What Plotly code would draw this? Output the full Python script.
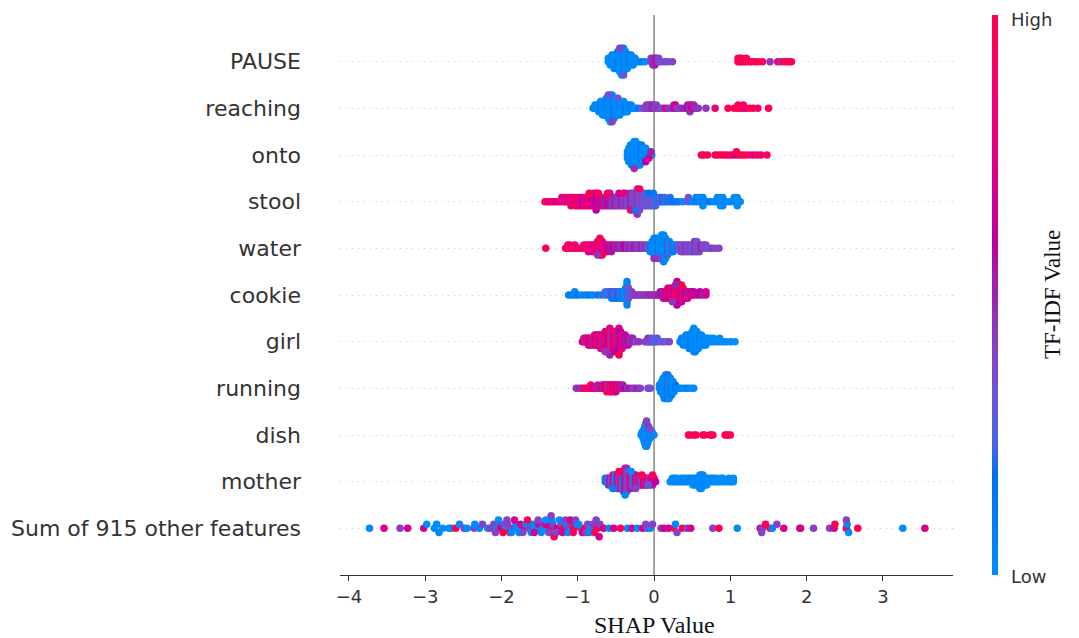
import numpy as np
import plotly.graph_objects as go

# ---------------- data ----------------
# each row: SHAP values, how many samples sit at that value, and their TF-IDF colour value (0=Low, 1=High)
features = ["PAUSE", "reaching", "onto", "stool", "water", "cookie", "girl",
            "running", "dish", "mother", "Sum of 915 other features"]
x_ticks = [-4, -3, -2, -1, 0, 1, 2, 3]
color_labels = ["Low", "High"]

PAUSE_shap = [-0.600, -0.575, -0.550, -0.525, -0.500, -0.475, -0.450, -0.425, -0.400, -0.375,
              -0.350, -0.325, -0.300, -0.275, -0.250, -0.225, -0.200, -0.160, -0.120, -0.450,
              -0.400, -0.040, -0.015, 0.010, 0.035, 0.060, 0.090, 0.140, 0.180, 0.240,
              1.100, 1.125, 1.150, 1.180, 1.210, 1.250, 1.280, 1.320, 1.360, 1.420,
              1.520, 1.620, 1.660, 1.700, 1.740, 1.770, 1.800]
PAUSE_count = [2, 3, 4, 5, 5, 6, 7, 9, 8, 6,
               5, 4, 4, 3, 2, 1, 1, 1, 1, 1,
               1, 2, 3, 3, 2, 2, 1, 1, 1, 1,
               2, 2, 2, 1, 2, 1, 1, 1, 1, 1,
               1, 1, 1, 1, 1, 1, 1]
PAUSE_tfidf = [0.00, 0.00, 0.05, 0.00, 0.00, 0.10, 0.00, 0.00, 0.05, 0.00,
               0.00, 0.10, 0.00, 0.00, 0.05, 0.00, 0.00, 0.10, 0.00, 0.40,
               0.30, 0.40, 0.45, 0.50, 0.55, 0.40, 0.35, 0.40, 0.35, 0.40,
               1.00, 0.95, 1.00, 0.90, 1.00, 0.95, 1.00, 0.90, 1.00, 0.95,
               0.45, 0.95, 0.45, 1.00, 0.90, 1.00, 0.95]

reaching_shap = [-0.800, -0.775, -0.750, -0.725, -0.700, -0.675, -0.650, -0.625, -0.600, -0.575,
                 -0.550, -0.525, -0.500, -0.475, -0.450, -0.425, -0.400, -0.375, -0.350, -0.325,
                 -0.300, -0.270, -0.240, -0.210, -0.600, -0.550, -0.475, -0.160, -0.130, -0.100,
                 -0.075, -0.050, -0.025, 0.000, 0.030, 0.060, 0.090, 0.120, 0.155, 0.190,
                 0.230, 0.260, 0.280, 0.300, 0.330, 0.360, 0.400, 0.440, 0.470, 0.490,
                 0.520, 0.550, 0.580, 0.680, 0.800, 0.970, 1.050, 1.100, 1.130, 1.170,
                 1.200, 1.250, 1.300, 1.360, 1.500]
reaching_count = [1, 2, 2, 3, 4, 5, 5, 6, 7, 9,
                  8, 7, 6, 5, 5, 4, 4, 3, 3, 2,
                  2, 1, 1, 1, 1, 1, 1, 1, 1, 2,
                  2, 2, 2, 2, 2, 1, 1, 1, 1, 1,
                  1, 2, 2, 1, 1, 1, 1, 2, 3, 2,
                  2, 1, 1, 1, 1, 1, 1, 2, 1, 2,
                  1, 1, 1, 1, 1]
reaching_tfidf = [0.00, 0.05, 0.00, 0.00, 0.10, 0.00, 0.00, 0.05, 0.00, 0.00,
                  0.00, 0.10, 0.00, 0.00, 0.05, 0.00, 0.00, 0.10, 0.00, 0.00,
                  0.05, 0.00, 0.00, 0.10, 0.35, 0.40, 0.30, 0.35, 0.40, 0.40,
                  0.45, 0.40, 0.50, 0.45, 0.40, 0.45, 0.35, 0.40, 0.75, 0.45,
                  0.40, 0.55, 0.70, 0.45, 0.40, 0.45, 0.50, 0.55, 0.45, 0.70,
                  0.50, 0.45, 0.45, 0.45, 0.80, 0.95, 1.00, 0.95, 0.90, 1.00,
                  0.80, 0.95, 1.00, 0.90, 1.00]

onto_shap = [-0.350, -0.330, -0.310, -0.295, -0.275, -0.260, -0.240, -0.220, -0.205, -0.185,
             -0.165, -0.150, -0.130, -0.110, -0.090, -0.070, -0.050, -0.030, -0.260, -0.110,
             -0.070, -0.040, 0.620, 0.650, 0.700, 0.800, 0.840, 0.880, 0.920, 0.960,
             1.000, 1.040, 1.080, 1.080, 1.120, 1.160, 1.200, 1.250, 1.300, 1.350,
             1.400, 1.480]
onto_count = [3, 5, 6, 7, 7, 8, 8, 7, 7, 7,
              6, 5, 4, 4, 3, 2, 1, 1, 1, 1,
              1, 1, 1, 1, 1, 1, 1, 1, 1, 1,
              1, 1, 1, 1, 1, 1, 1, 1, 1, 1,
              1, 1]
onto_tfidf = [0.00, 0.05, 0.00, 0.00, 0.10, 0.00, 0.00, 0.05, 0.00, 0.00,
              0.10, 0.00, 0.00, 0.05, 0.00, 0.00, 0.10, 0.00, 0.45, 0.60,
              0.70, 0.50, 1.00, 0.95, 1.00, 0.90, 1.00, 0.95, 1.00, 0.90,
              0.95, 1.00, 0.60, 1.00, 1.00, 0.90, 1.00, 0.90, 0.70, 1.00,
              0.80, 0.95]

stool_shap = [-1.43, -1.40, -1.36, -1.32, -1.29, -1.25, -1.21, -1.18, -1.15, -1.12,
              -1.09, -1.06, -1.03, -1.00, -0.97, -0.94, -0.91, -0.88, -0.85, -0.82,
              -0.79, -0.76, -0.73, -0.70, -0.67, -0.64, -0.61, -0.58, -0.55, -0.52,
              -0.49, -0.46, -0.43, -0.40, -0.37, -0.34, -0.31, -0.28, -0.25, -0.22,
              -0.19, -0.16, -0.13, -0.10, -0.07, -0.04, -0.01, 0.02, 0.05, 0.08,
              0.11, 0.14, 0.17, 0.21, 0.25, 0.29, 0.33, 0.38, 0.45, 0.50,
              0.55, 0.60, 0.64, 0.68, 0.73, 0.78, 0.83, 0.87, 0.90, 0.95,
              1.00, 1.05, 1.09, 1.13, -0.85, -0.73, -0.61, -0.46, -0.31, -0.19,
              -0.01, -0.07, -0.25, -0.40]
stool_count = [1, 1, 1, 1, 1, 1, 2, 2, 2, 2,
               3, 2, 3, 3, 3, 3, 3, 3, 3, 3,
               4, 5, 3, 3, 3, 3, 3, 4, 3, 3,
               3, 3, 3, 3, 4, 3, 4, 5, 4, 7,
               5, 4, 4, 3, 3, 3, 3, 3, 2, 2,
               2, 2, 1, 2, 1, 1, 1, 1, 2, 1,
               2, 2, 3, 1, 1, 1, 2, 3, 3, 1,
               1, 2, 3, 1, 1, 1, 1, 1, 1, 1,
               1, 1, 1, 1]
stool_tfidf = [1.00, 0.90, 0.75, 1.00, 0.70, 0.80, 0.90, 0.70, 0.85, 0.75,
               0.90, 0.70, 0.80, 1.00, 0.75, 0.60, 0.85, 0.70, 0.90, 0.65,
               0.80, 0.60, 0.75, 0.55, 0.70, 0.50, 0.65, 0.55, 0.45, 0.50,
               0.45, 0.40, 0.50, 0.40, 0.45, 0.35, 0.50, 0.40, 0.38, 0.45,
               0.35, 0.40, 0.30, 0.35, 0.30, 0.35, 0.30, 0.25, 0.20, 0.30,
               0.15, 0.25, 0.10, 0.20, 0.15, 0.10, 0.20, 0.00, 0.35, 0.00,
               0.10, 0.00, 0.05, 0.00, 0.10, 0.00, 0.05, 0.00, 0.00, 0.05,
               0.00, 0.00, 0.00, 0.00, 1.00, 1.00, 0.95, 0.70, 0.85, 0.95,
               0.10, 0.15, 0.20, 0.80]

water_shap = [-1.420, -1.160, -1.130, -1.100, -1.070, -1.040, -1.000, -0.960, -0.920, -0.890,
              -0.860, -0.830, -0.800, -0.770, -0.740, -0.710, -0.680, -0.650, -0.620, -0.590,
              -0.560, -0.530, -0.500, -0.470, -0.440, -0.410, -0.380, -0.350, -0.320, -0.290,
              -0.260, -0.230, -0.200, -0.170, -0.140, -0.110, -0.080, -0.050, -0.025, 0.000,
              0.025, 0.050, 0.075, 0.100, 0.125, 0.150, 0.175, 0.200, 0.225, 0.250,
              0.275, 0.300, 0.325, 0.350, 0.380, 0.410, 0.440, 0.470, 0.500, 0.530,
              0.560, 0.590, 0.620, 0.650, 0.680, 0.720, 0.760, 0.800, 0.850, -0.710,
              -0.680, -0.740, 0.050, 0.000]
water_count = [1, 1, 2, 2, 1, 2, 1, 1, 2, 2,
               3, 2, 3, 3, 4, 5, 4, 3, 3, 2,
               3, 2, 2, 2, 2, 2, 2, 2, 2, 2,
               2, 2, 2, 2, 2, 2, 2, 3, 4, 6,
               6, 6, 7, 8, 9, 7, 5, 4, 3, 3,
               2, 2, 2, 3, 3, 3, 3, 3, 3, 4,
               4, 3, 2, 2, 2, 1, 1, 1, 1, 1,
               1, 1, 1, 1]
water_tfidf = [1.00, 0.90, 1.00, 0.85, 0.95, 0.90, 0.80, 0.90, 0.85, 0.95,
               0.75, 0.90, 0.70, 0.85, 0.75, 0.95, 0.70, 0.80, 0.65, 0.70,
               0.55, 0.60, 0.50, 0.55, 0.45, 0.50, 0.60, 0.45, 0.50, 0.40,
               0.55, 0.45, 0.40, 0.50, 0.40, 0.45, 0.35, 0.10, 0.00, 0.05,
               0.00, 0.10, 0.00, 0.00, 0.05, 0.00, 0.20, 0.00, 0.30, 0.10,
               0.00, 0.20, 0.30, 0.40, 0.35, 0.45, 0.35, 0.40, 0.30, 0.45,
               0.35, 0.40, 0.50, 0.35, 0.40, 0.30, 0.45, 0.35, 0.40, 1.00,
               1.00, 0.45, 0.40, 0.45]

cookie_shap = [-1.120, -1.080, -1.040, -1.000, -0.950, -0.900, -0.850, -0.800, -0.740, -0.690,
               -0.640, -0.610, -0.580, -0.555, -0.535, -0.515, -0.495, -0.475, -0.455, -0.435,
               -0.415, -0.395, -0.375, -0.355, -0.335, -0.315, -0.295, -0.270, -0.245, -0.220,
               -0.195, -0.170, -0.145, -0.120, -0.095, -0.070, -0.045, -0.020, 0.005, 0.030,
               0.055, 0.080, 0.100, 0.120, 0.140, 0.160, 0.180, 0.200, 0.220, 0.240,
               0.260, 0.280, 0.300, 0.320, 0.340, 0.360, 0.380, 0.400, 0.420, 0.440,
               0.460, 0.490, 0.520, 0.560, 0.600, 0.640, 0.680, 0.300, 0.240, 0.360,
               0.280]
cookie_count = [1, 1, 2, 1, 1, 1, 1, 1, 1, 1,
                2, 2, 2, 3, 2, 3, 2, 3, 2, 3,
                3, 3, 4, 8, 4, 2, 2, 1, 1, 1,
                1, 1, 1, 1, 1, 1, 1, 1, 1, 1,
                1, 2, 2, 3, 3, 3, 4, 4, 4, 4,
                4, 5, 6, 6, 5, 5, 4, 3, 3, 3,
                2, 2, 2, 1, 2, 1, 2, 2, 1, 1,
                1]
cookie_tfidf = [0.05, 0.10, 0.00, 0.15, 0.00, 0.05, 0.10, 0.00, 0.20, 0.05,
                0.30, 0.00, 0.35, 0.10, 0.40, 0.05, 0.30, 0.15, 0.40, 0.00,
                0.20, 0.05, 0.00, 0.05, 0.35, 0.00, 0.40, 0.40, 0.45, 0.40,
                0.45, 0.40, 0.45, 0.40, 0.45, 0.45, 0.50, 0.45, 0.50, 0.45,
                0.55, 0.50, 0.60, 0.50, 0.70, 0.60, 0.85, 0.65, 0.75, 0.90,
                0.60, 0.80, 1.00, 0.70, 0.85, 0.60, 0.90, 0.70, 0.60, 0.80,
                0.55, 0.70, 0.60, 0.75, 0.60, 0.50, 0.70, 0.60, 0.45, 1.00,
                0.50]

girl_shap = [-0.94, -0.92, -0.90, -0.88, -0.86, -0.84, -0.82, -0.80, -0.78, -0.76,
             -0.74, -0.72, -0.70, -0.68, -0.66, -0.64, -0.62, -0.60, -0.58, -0.56,
             -0.54, -0.52, -0.50, -0.48, -0.46, -0.44, -0.42, -0.40, -0.38, -0.36,
             -0.34, -0.32, -0.30, -0.28, -0.24, -0.20, -0.12, -0.10, -0.08, -0.06,
             -0.04, -0.02, 0.00, 0.02, 0.04, 0.08, 0.12, 0.16, 0.20, 0.34,
             0.36, 0.38, 0.40, 0.42, 0.44, 0.46, 0.48, 0.50, 0.52, 0.54,
             0.56, 0.58, 0.60, 0.62, 0.64, 0.66, 0.68, 0.70, 0.74, 0.78,
             0.82, 0.86, 0.90, 0.94, 1.00, 1.06, -0.58, -0.50, -0.64, -0.46]
girl_count = [1, 2, 2, 2, 3, 3, 3, 3, 4, 4,
              4, 4, 5, 5, 5, 6, 6, 7, 8, 7,
              7, 6, 6, 7, 8, 6, 5, 4, 4, 3,
              3, 2, 2, 2, 1, 1, 1, 1, 2, 1,
              2, 1, 2, 1, 2, 1, 1, 1, 1, 1,
              2, 3, 3, 4, 4, 5, 5, 6, 8, 7,
              6, 5, 4, 4, 3, 3, 3, 2, 2, 2,
              1, 2, 1, 1, 1, 1, 1, 1, 1, 1]
girl_tfidf = [0.60, 0.80, 0.50, 0.90, 0.70, 0.60, 0.95, 0.50, 0.80, 0.65,
              1.00, 0.55, 0.75, 0.90, 0.50, 0.70, 1.00, 0.60, 0.80, 0.45,
              0.90, 0.65, 1.00, 0.50, 0.75, 0.60, 0.85, 0.55, 0.70, 0.50,
              0.65, 0.50, 0.45, 0.50, 0.40, 0.45, 0.40, 0.35, 0.45, 0.30,
              0.40, 0.35, 0.30, 0.35, 0.25, 0.30, 0.35, 0.30, 0.40, 0.05,
              0.00, 0.10, 0.00, 0.05, 0.00, 0.00, 0.10, 0.00, 0.00, 0.05,
              0.00, 0.00, 0.10, 0.00, 0.00, 0.05, 0.00, 0.00, 0.00, 0.00,
              0.00, 0.00, 0.00, 0.00, 0.00, 0.00, 0.50, 0.60, 0.45, 1.00]

running_shap = [-1.020, -0.980, -0.950, -0.920, -0.890, -0.860, -0.830, -0.800, -0.770, -0.740,
                -0.710, -0.680, -0.660, -0.640, -0.620, -0.600, -0.580, -0.560, -0.540, -0.520,
                -0.500, -0.480, -0.460, -0.440, -0.410, -0.380, -0.350, -0.320, -0.280, -0.250,
                -0.210, -0.180, -0.080, -0.050, 0.070, 0.086, 0.102, 0.118, 0.134, 0.150,
                0.166, 0.182, 0.198, 0.214, 0.230, 0.246, 0.262, 0.278, 0.300, 0.330,
                0.360, 0.400, 0.440, 0.480, 0.520]
running_count = [1, 1, 1, 1, 1, 1, 2, 1, 1, 2,
                 1, 2, 2, 2, 3, 2, 3, 3, 2, 3,
                 3, 2, 2, 2, 2, 1, 1, 1, 1, 1,
                 1, 1, 1, 1, 2, 3, 4, 6, 7, 8,
                 8, 8, 7, 6, 5, 4, 3, 2, 1, 1,
                 1, 1, 1, 1, 1]
running_tfidf = [0.45, 0.50, 0.45, 0.90, 0.95, 0.80, 1.00, 0.60, 0.90, 0.50,
                 0.75, 0.55, 0.90, 0.60, 1.00, 0.45, 0.80, 0.95, 0.60, 0.85,
                 0.70, 1.00, 0.55, 0.75, 0.50, 0.60, 0.45, 0.55, 0.40, 0.45,
                 0.50, 0.40, 0.40, 0.35, 0.05, 0.00, 0.10, 0.00, 0.00, 0.05,
                 0.00, 0.20, 0.00, 0.00, 0.10, 0.00, 0.00, 0.15, 0.00, 0.05,
                 0.00, 0.00, 0.10, 0.00, 0.00]

dish_shap = [-0.170, -0.158, -0.146, -0.134, -0.122, -0.110, -0.098, -0.086, -0.074, -0.062,
             -0.050, -0.038, -0.026, -0.014, -0.002, -0.098, -0.074, -0.050, 0.450, 0.470,
             0.520, 0.550, 0.640, 0.660, 0.730, 0.750, 0.770, 0.930, 0.950, 0.970,
             1.000]
dish_count = [1, 2, 3, 5, 7, 9, 9, 7, 5, 4,
              3, 2, 2, 1, 1, 1, 1, 1, 1, 1,
              1, 1, 1, 1, 1, 1, 1, 1, 1, 1,
              1]
dish_tfidf = [0.00, 0.05, 0.00, 0.00, 0.10, 0.00, 0.00, 0.05, 0.00, 0.00,
              0.10, 0.00, 0.00, 0.05, 0.00, 0.40, 0.45, 0.35, 1.00, 0.95,
              1.00, 0.95, 1.00, 0.95, 1.00, 0.90, 1.00, 0.95, 1.00, 0.95,
              1.00]

mother_shap = [-0.64, -0.62, -0.60, -0.58, -0.56, -0.54, -0.52, -0.50, -0.48, -0.46,
               -0.44, -0.42, -0.40, -0.38, -0.36, -0.34, -0.32, -0.30, -0.28, -0.26,
               -0.24, -0.22, -0.20, -0.18, -0.16, -0.14, -0.12, -0.10, -0.08, -0.06,
               -0.04, -0.02, 0.00, 0.02, -0.54, -0.46, -0.38, -0.30, -0.24, -0.16,
               -0.08, -0.02, 0.21, 0.24, 0.27, 0.30, 0.33, 0.36, 0.39, 0.42,
               0.45, 0.48, 0.51, 0.54, 0.57, 0.60, 0.62, 0.64, 0.66, 0.69,
               0.72, 0.75, 0.78, 0.81, 0.84, 0.87, 0.90, 0.94, 0.98, 1.01,
               1.04]
mother_count = [2, 2, 3, 3, 3, 4, 4, 4, 5, 5,
                5, 6, 7, 8, 8, 6, 5, 5, 4, 4,
                4, 3, 3, 3, 3, 3, 3, 3, 2, 3,
                2, 3, 2, 1, 1, 1, 1, 1, 1, 1,
                1, 1, 1, 2, 2, 2, 1, 2, 2, 2,
                2, 2, 3, 3, 3, 5, 5, 4, 3, 3,
                2, 2, 2, 2, 1, 2, 2, 1, 2, 1,
                2]
mother_tfidf = [0.10, 0.40, 0.00, 0.55, 0.30, 0.80, 0.45, 0.00, 0.60, 0.35,
                0.90, 0.40, 0.10, 0.70, 0.45, 0.30, 0.95, 0.50, 0.35, 0.20,
                0.70, 0.45, 0.90, 0.50, 0.35, 0.65, 0.95, 0.50, 0.70, 0.40,
                0.85, 0.55, 0.90, 0.60, 0.10, 1.00, 0.05, 0.00, 0.40, 1.00,
                0.30, 0.95, 0.00, 0.00, 0.05, 0.00, 0.00, 0.00, 0.05, 0.00,
                0.00, 0.05, 0.00, 0.00, 0.05, 0.00, 0.00, 0.00, 0.05, 0.00,
                0.00, 0.00, 0.05, 0.00, 0.00, 0.00, 0.00, 0.00, 0.00, 0.00,
                0.00]

other_shap = [-3.73, -3.54, -3.33, -3.23, -3.02, -2.98, -2.88, -2.85, -2.82, -2.77,
              -2.69, -2.66, -2.60, -2.55, -2.49, -2.45, -2.36, -2.35, -2.29, -2.25,
              -2.18, -2.15, -2.10, -2.06, -2.03, -2.01, -1.97, -1.94, -1.92, -1.89,
              -1.86, -1.81, -1.79, -1.75, -1.70, -1.68, -1.64, -1.59, -1.55, -1.51,
              -1.46, -1.44, -1.40, -1.36, -1.33, -1.30, -1.27, -1.22, -1.18, -1.15,
              -1.12, -1.09, -1.05, -1.01, -0.96, -0.92, -0.87, -0.83, -0.80, -0.74,
              -0.71, -0.66, -0.59, -0.53, -0.44, -0.35, -0.29, -0.22, -0.15, -0.09,
              -0.05, -0.11, -0.02, 0.09, 0.13, 0.19, 0.26, 0.28, 0.30, 0.37,
              0.43, 0.48, 0.77, 0.85, 1.09, 1.39, 1.42, 1.46, 1.52, 1.55,
              1.61, 1.70, 1.91, 1.92, 2.09, 2.30, 2.36, 2.37, 2.52, 2.53,
              2.55, 2.67, 3.26, 3.55, -2.08, -2.04, -1.98, -1.93, -1.87, -1.83,
              -1.77, -1.72, -1.66, -1.61, -1.57, -1.52, -1.48, -1.42, -1.38, -1.34,
              -1.31, -1.28, -1.24, -1.20, -1.16, -1.13, -1.10, -1.06, -1.03, -0.99,
              -0.94, -0.89, -0.85, -0.78, -0.76, -0.72, -1.35, -1.42, 1.41, 2.52]
other_count = None  # every value here is a single sample
other_tfidf = [0.00, 0.75, 0.40, 0.70, 0.70, 0.00, 0.00, 0.00, 0.00, 0.00,
               0.00, 0.00, 1.00, 0.00, 0.40, 0.00, 0.40, 0.00, 0.00, 0.40,
               0.00, 0.40, 0.40, 0.00, 0.40, 0.70, 0.40, 0.00, 0.40, 1.00,
               0.40, 0.00, 0.00, 0.70, 0.70, 0.00, 0.40, 0.00, 0.00, 0.70,
               0.00, 0.40, 0.00, 1.00, 0.40, 0.00, 0.70, 0.40, 1.00, 0.00,
               0.40, 0.40, 1.00, 0.00, 0.40, 1.00, 0.40, 0.00, 0.40, 1.00,
               0.40, 0.70, 0.00, 0.70, 1.00, 0.00, 0.70, 0.00, 0.70, 0.40,
               0.00, 0.40, 0.40, 0.40, 0.70, 0.70, 1.00, 0.00, 0.40, 1.00,
               0.40, 0.70, 0.40, 1.00, 0.00, 0.70, 0.40, 1.00, 1.00, 0.00,
               0.40, 0.70, 1.00, 0.70, 0.40, 0.40, 0.70, 1.00, 1.00, 0.00,
               0.00, 1.00, 0.00, 0.70, 0.40, 0.00, 1.00, 0.40, 0.00, 0.70,
               0.00, 0.40, 1.00, 0.00, 0.70, 0.40, 0.00, 0.70, 0.40, 0.00,
               1.00, 0.40, 0.00, 0.70, 0.40, 0.00, 0.70, 1.00, 0.40, 0.00,
               0.70, 0.40, 0.00, 1.00, 0.40, 0.70, 0.40, 0.00, 0.40, 0.40]

shap_rows = [PAUSE_shap, reaching_shap, onto_shap, stool_shap, water_shap,
             cookie_shap, girl_shap, running_shap, dish_shap, mother_shap, other_shap]
count_rows = [PAUSE_count, reaching_count, onto_count, stool_count, water_count,
              cookie_count, girl_count, running_count, dish_count, mother_count, other_count]
tfidf_rows = [PAUSE_tfidf, reaching_tfidf, onto_tfidf, stool_tfidf, water_tfidf,
              cookie_tfidf, girl_tfidf, running_tfidf, dish_tfidf, mother_tfidf, other_tfidf]


# ---------------- helpers ----------------
def lch_to_hex(L, C, h):
    a, b = C * np.cos(h), C * np.sin(h)
    fy = (L + 16) / 116.0
    fx, fz = fy + a / 500.0, fy - b / 200.0

    def finv(t):
        return t ** 3 if t > 6 / 29 else 3 * (6 / 29) ** 2 * (t - 4 / 29)

    X, Y, Z = 0.95047 * finv(fx), finv(fy), 1.08883 * finv(fz)
    M = np.array([[3.2406, -1.5372, -0.4986],
                  [-0.9689, 1.8758, 0.0415],
                  [0.0557, -0.2040, 1.0570]])
    lin = M @ np.array([X, Y, Z])
    out = []
    for c in lin:
        c = 1.055 * c ** (1 / 2.4) - 0.055 if c > 0.0031308 else 12.92 * c
        out.append(int(round(min(max(c, 0), 1) * 255)))
    return "#%02x%02x%02x" % tuple(out)


def shap_red_blue(nsteps=100):
    blue_lch = [54.0, 70.0, 4.6588]
    red_lch = [54.0, 90.0, 0.35470565 + 2 * np.pi]
    l_mid = 40.0
    lv = list(np.linspace(blue_lch[0], l_mid, nsteps // 2)) + \
        list(np.linspace(l_mid, red_lch[0], nsteps // 2))
    cv = np.linspace(blue_lch[1], red_lch[1], nsteps)
    hv = np.linspace(blue_lch[2], red_lch[2], nsteps)
    return [[i / (nsteps - 1), lch_to_hex(lv[i], cv[i], hv[i])] for i in range(nsteps)]


def expand(xs, ns, cs):
    m = min(len(xs), len(cs)) if ns is None else min(len(xs), len(cs), len(ns))
    ox, oc = [], []
    for i in range(m):
        k = 1 if ns is None else int(ns[i])
        ox += [xs[i]] * k
        oc += [cs[i]] * k
    return ox, oc


def swarm_offsets(vals, row_height=0.4, nbins=100):
    v = np.asarray(vals, dtype=float)
    quant = np.round(nbins * (v - v.min()) / (v.max() - v.min() + 1e-8))
    inds = np.argsort(quant, kind="stable")
    ys = np.zeros(len(v))
    layer, last = 0, -1
    for i in inds:
        if quant[i] != last:
            layer = 0
        ys[i] = np.ceil(layer / 2) * ((layer % 2) * 2 - 1)
        layer += 1
        last = quant[i]
    ys *= 0.9 * (row_height / np.max(ys + 1))
    return ys


# ---------------- build figure ----------------
n = len(features)
all_x, all_y, all_c = [], [], []
for i in range(n):
    xs, cs = expand(shap_rows[i], count_rows[i], tfidf_rows[i])
    pos = n - 1 - i
    offs = swarm_offsets(xs)
    all_x += list(xs)
    all_y += list(pos + offs)
    all_c += list(cs)

cscale = shap_red_blue()

# the page body adds an 8px margin, so the figure is laid out 8px smaller
OFF = 8
W, H = 1079 - OFF, 638 - OFF
PL, PR, PT, PB = 340, 953, 15, 575          # plot area in screen pixels
ML, MR, MT, MB = PL - OFF, W - (PR - OFF), PT - OFF, H - (PB - OFF)
pw, ph = PR - PL, PB - PT

fig = go.Figure()
fig.add_trace(go.Scatter(
    x=all_x, y=all_y, mode="markers",
    marker=dict(size=7.5, color=all_c, colorscale=cscale, cmin=0, cmax=1,
                line=dict(width=0), opacity=1,
                colorbar=dict(
                    thickness=6, len=1, lenmode="fraction", y=0.5, yanchor="middle",
                    x=(992 - PL) / pw, xanchor="left", xpad=0, ypad=0,
                    outlinewidth=0, showticklabels=False, ticks="")),
    hoverinfo="skip", showlegend=False))

fig.add_shape(type="line", xref="x", yref="paper", x0=0, x1=0, y0=0, y1=1,
              line=dict(color="#999999", width=1.8), layer="below")

# colour-bar end labels
fig.add_annotation(text=color_labels[1], xref="paper", yref="paper",
                   x=(1009 - PL) / pw, y=(PB - 20) / ph, xanchor="left", yanchor="middle",
                   showarrow=False,
                   font=dict(family="DejaVu Sans", size=18, color="#333333"))
fig.add_annotation(text=color_labels[0], xref="paper", yref="paper",
                   x=(1009 - PL) / pw, y=(PB - 576) / ph, xanchor="left", yanchor="middle",
                   showarrow=False,
                   font=dict(family="DejaVu Sans", size=18, color="#333333"))

fig.add_annotation(text="SHAP Value", xref="paper", yref="paper",
                   x=(654 - PL) / pw, y=-(625 - PB) / ph,
                   xanchor="center", yanchor="middle", showarrow=False,
                   font=dict(family="Liberation Serif", size=24, color="#111111"))
fig.add_annotation(text="TF-IDF Value", xref="paper", yref="paper",
                   x=(1052 - PL) / pw, y=0.5, textangle=-90,
                   xanchor="center", yanchor="middle", showarrow=False,
                   font=dict(family="Liberation Serif", size=23, color="#111111"))

fig.update_layout(
    width=W, height=H,
    margin=dict(l=ML, r=MR, t=MT, b=MB, pad=0, autoexpand=False),
    paper_bgcolor="white", plot_bgcolor="white",
    font=dict(family="DejaVu Sans", color="#333333"),
    xaxis=dict(range=[-4.117, 3.918], tickvals=x_ticks, ticks="outside", ticklen=5,
               tickwidth=1, tickcolor="#333333", showline=True, linecolor="#333333",
               linewidth=1, showgrid=False, zeroline=False, automargin=False,
               tickfont=dict(family="DejaVu Sans", size=18, color="#333333")),
    yaxis=dict(range=[-1, 11], tickvals=list(range(n)), ticktext=features[::-1],
               showgrid=True, gridcolor="#cccccc", griddash="1px,5px", gridwidth=1,
               zeroline=False, showline=False, ticks="", ticklabelstandoff=38,
               automargin=False,
               tickfont=dict(family="DejaVu Sans", size=22, color="#333333")),
)

fig.write_html("out.html")
